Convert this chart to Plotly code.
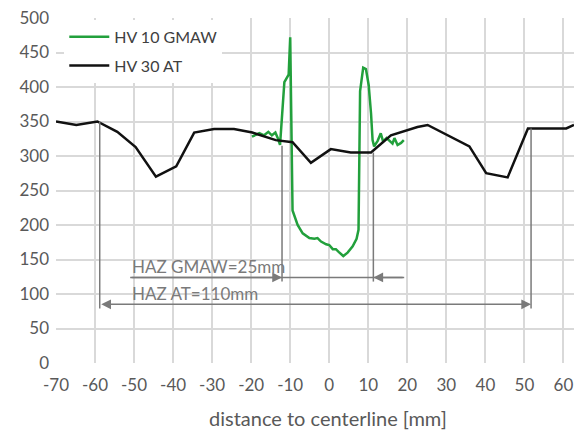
import plotly.graph_objects as go

# HV 30 AT (black)
at_x = [-70, -64.8, -59.4, -54.3, -49.6, -44.4, -39.2, -34.6, -29.5, -24.4, -19.7, -13.7, -9.4,
        -4.7, 0.4, 5.5, 10.7, 15.8, 22.6, 25.2, 35.9, 40.2, 45.7, 50.9, 60.7, 62.7]
at_y = [350, 345, 350, 335, 313, 270, 285, 334, 339, 339, 334, 323, 320,
        290, 310, 305, 305, 330, 342, 345, 314, 275, 269, 340, 340, 345]

# HV 10 GMAW (green)
gm_x = [-19.8, -17.9, -16.7, -15.6, -14.7, -13.8, -13.2, -12.6, -11.5, -10.4, -10.0, -9.4,
        -8.1, -6.8, -5.1, -3.8, -3.0, -2.1, -0.8, 0.0, 0.9, 1.7, 2.4, 3.6, 4.7, 6.0, 7.0, 7.5,
        7.9, 8.7, 9.4, 10.1, 10.7, 11.1, 11.5, 12.4, 13.2, 13.8, 14.7, 15.5, 16.2, 16.7, 17.5,
        18.4, 19.1]
gm_y = [328, 333, 330, 335, 330, 334, 326, 316, 407, 418, 472, 221,
        200, 188, 181, 180, 181, 176, 172, 171, 165, 165, 161, 155, 160, 169, 180, 193,
        394, 428, 426, 403, 362, 323, 314, 322, 333, 321, 326, 322, 318, 326, 316,
        319, 323]

# HAZ extents
haz_gmaw = [-12.1, 11.3]
haz_gmaw_top = [315, 305]
haz_gmaw_level = 124
haz_gmaw_line = [-51.0, 19.2]
haz_at = [-58.8, 51.7]
haz_at_top = [350, 340]
haz_at_level = 85
labels = ["HAZ GMAW=25mm", "HAZ AT=110mm"]
x_title = "distance to centerline [mm]"

x_ticks = list(range(-70, 61, 10))
x_ticktext = [str(v) for v in x_ticks]
y_ticks = list(range(0, 501, 50))
y_ticktext = [str(v) for v in y_ticks]

GRAY = "#7a7a7a"
TXT = "#595959"
FONT = "Lato, 'Open Sans', sans-serif"

fig = go.Figure()
fig.add_trace(go.Scatter(x=gm_x, y=gm_y, mode="lines", name="HV 10 GMAW", legendgroup="a",
                         line=dict(color="#22a03c", width=2.5)))
fig.add_trace(go.Scatter(x=at_x, y=at_y, mode="lines", name="HV 30 AT", legendgroup="b",
                         line=dict(color="#111111", width=2.5)))

shapes = []
for xv, top in zip(haz_gmaw, haz_gmaw_top):
    shapes.append(dict(type="line", xref="x", yref="y", x0=xv, x1=xv, y0=top,
                       y1=haz_gmaw_level - 6, line=dict(color=GRAY, width=1.5)))
for xv, top in zip(haz_at, haz_at_top):
    shapes.append(dict(type="line", xref="x", yref="y", x0=xv, x1=xv, y0=top,
                       y1=haz_at_level - 6, line=dict(color=GRAY, width=1.5)))
shapes.append(dict(type="line", xref="x", yref="y", x0=haz_gmaw_line[0], x1=haz_gmaw_line[1],
                   y0=haz_gmaw_level, y1=haz_gmaw_level, line=dict(color=GRAY, width=1.5)))

annotations = [
    dict(x=haz_gmaw[0], y=haz_gmaw_level, ax=haz_gmaw_line[0], ay=haz_gmaw_level,
         xref="x", yref="y", axref="x", ayref="y", text="", showarrow=True,
         arrowhead=2, arrowsize=1.3, arrowwidth=1.5, arrowcolor=GRAY, standoff=0),
    dict(x=haz_gmaw[1], y=haz_gmaw_level, ax=haz_gmaw_line[1], ay=haz_gmaw_level,
         xref="x", yref="y", axref="x", ayref="y", text="", showarrow=True,
         arrowhead=2, arrowsize=1.3, arrowwidth=1.5, arrowcolor=GRAY, standoff=0),
    dict(x=haz_at[1], y=haz_at_level, ax=haz_at[0], ay=haz_at_level,
         xref="x", yref="y", axref="x", ayref="y", text="", showarrow=True,
         arrowhead=2, startarrowhead=2, arrowside="end+start", arrowsize=1.3,
         startarrowsize=1.3, arrowwidth=1.5, arrowcolor=GRAY, standoff=0, startstandoff=0),
    dict(x=haz_gmaw_line[0], y=haz_gmaw_level + 16, xref="x", yref="y", text=labels[0],
         showarrow=False, xanchor="left", yanchor="middle",
         font=dict(family=FONT, size=17, color=GRAY)),
    dict(x=haz_gmaw_line[0], y=haz_at_level + 16, xref="x", yref="y", text=labels[1],
         showarrow=False, xanchor="left", yanchor="middle",
         font=dict(family=FONT, size=17, color=GRAY)),
    # axis title (centred on the full, un-cropped plot width of the original)
    dict(x=0.525, y=-0.159, xref="paper", yref="paper", text=x_title, showarrow=False,
         xanchor="center", yanchor="middle", font=dict(family=FONT, size=20, color=TXT)),
]

fig.update_layout(
    width=574, height=431,
    margin=dict(l=56, r=0, t=18, b=68, autoexpand=False),
    paper_bgcolor="white", plot_bgcolor="white",
    font=dict(family=FONT, size=16, color=TXT),
    shapes=shapes, annotations=annotations,
    showlegend=True,
    legend=dict(x=0.016, y=0.995, xanchor="left", yanchor="top", bgcolor="white",
                font=dict(family=FONT, size=16, color="#404040"),
                itemwidth=40, tracegroupgap=5),
    xaxis=dict(range=[-70, 62.7], tickvals=x_ticks, ticktext=x_ticktext, showgrid=True,
               gridcolor="#d9d9d9", gridwidth=1.5, zeroline=False, showline=False, ticks="",
               automargin=False, ticklabelstandoff=10, ticklabeloverflow="allow",
               tickfont=dict(family=FONT, size=17, color=TXT)),
    yaxis=dict(range=[0, 500], tickvals=y_ticks, ticktext=y_ticktext, showgrid=True,
               gridcolor="#d9d9d9", gridwidth=1.5, zeroline=False, showline=False, ticks="",
               automargin=False, ticklabelstandoff=6, ticklabeloverflow="allow",
               tickfont=dict(family=FONT, size=17, color=TXT)),
)

# remove the browser's default 8px page margin so the figure fills the window
fig.write_html("out.html", config={"displayModeBar": False},
               post_script="document.body.style.margin='0';document.body.style.overflow='hidden';")
